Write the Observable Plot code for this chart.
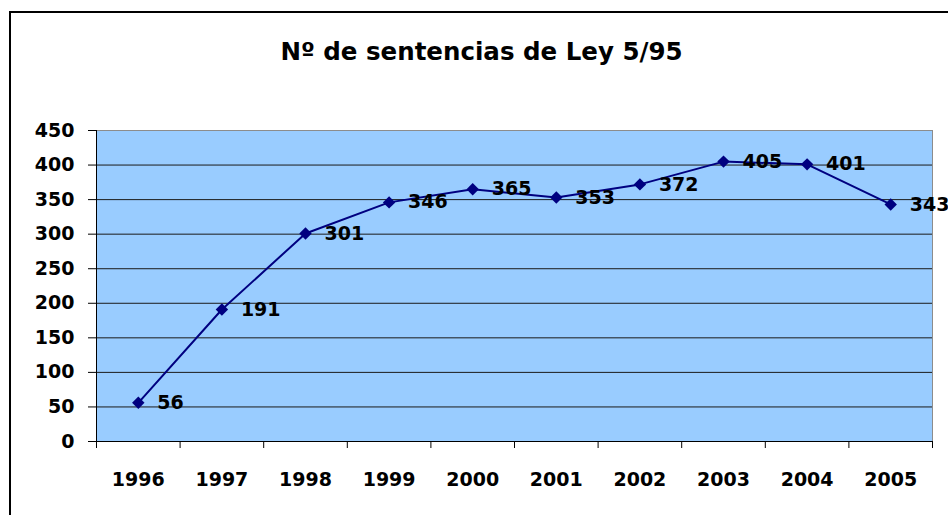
<!DOCTYPE html>
<html><head><meta charset="utf-8">
<script src="https://cdn.jsdelivr.net/npm/d3@7"></script>
<script src="https://cdn.jsdelivr.net/npm/@observablehq/plot@0.6"></script>
<style>
html,body{margin:0;padding:0;background:#fff;}
body{overflow:hidden;width:948px;height:515px;position:relative;font-family:"DejaVu Sans",sans-serif;}
#border{position:absolute;left:9px;top:11px;width:1000px;height:600px;border:2px solid #000;box-sizing:border-box;}
#title{position:absolute;left:0;top:40px;width:963px;text-align:center;font-size:24.5px;line-height:24px;font-weight:bold;color:#000;}
#chart{position:absolute;left:0;top:0;}
</style></head><body>
<div id="border"></div>
<div id="title">Nº de sentencias de Ley 5/95</div>
<div id="chart"></div>
<script>
const years = [1996, 1997, 1998, 1999, 2000, 2001, 2002, 2003, 2004, 2005];
const values = [56, 191, 301, 346, 365, 353, 372, 405, 401, 343];
const yTicks = [0, 50, 100, 150, 200, 250, 300, 350, 400, 450];

const data = years.map((year, i) => ({year, value: values[i]}));
const bounds = [...years.map(y => y - 0.5), years[years.length - 1] + 0.5];

const chart = Plot.plot({
  width: 948,
  height: 515,
  marginLeft: 96,
  marginRight: 16,
  marginTop: 130,
  marginBottom: 74,
  style: {background: "transparent", fontFamily: "DejaVu Sans", fontWeight: "bold", fontSize: "19px", color: "#000", overflow: "visible"},
  x: {type: "linear", domain: [bounds[0], bounds[bounds.length - 1]]},
  y: {domain: [0, 450]},
  marks: [
    Plot.frame({fill: "#99CCFF", stroke: "none"}),
    Plot.gridY(yTicks.slice(1, -1), {stroke: "#1a1a1a", strokeOpacity: 1, strokeWidth: 1}),
    Plot.frame({stroke: "#8c8c8c"}),
    Plot.ruleY([0], {stroke: "#000"}),
    Plot.ruleX([bounds[0]], {stroke: "#000"}),
    Plot.axisY(yTicks, {tickSize: 8, tickPadding: 14, fontSize: 19, fontWeight: "bold", color: "#000", label: null}),
    Plot.axisX(bounds, {tickSize: 7, stroke: "#000", fill: "none", label: null}),
    Plot.axisX(years, {tickSize: 0, tickPadding: 31, tickFormat: d => String(d), fontSize: 19, fontWeight: "bold", color: "#000", label: null}),
    Plot.line(data, {x: "year", y: "value", stroke: "#000080", strokeWidth: 2}),
    Plot.dot(data, {x: "year", y: "value", symbol: "diamond2", r: 5.6, fill: "#000080", stroke: "none"}),
    Plot.text(data, {x: "year", y: "value", text: d => String(d.value), dx: 19, textAnchor: "start", fontSize: 19, fontWeight: "bold", fill: "#000"})
  ]
});
document.getElementById("chart").appendChild(chart);
</script>
</body></html>
